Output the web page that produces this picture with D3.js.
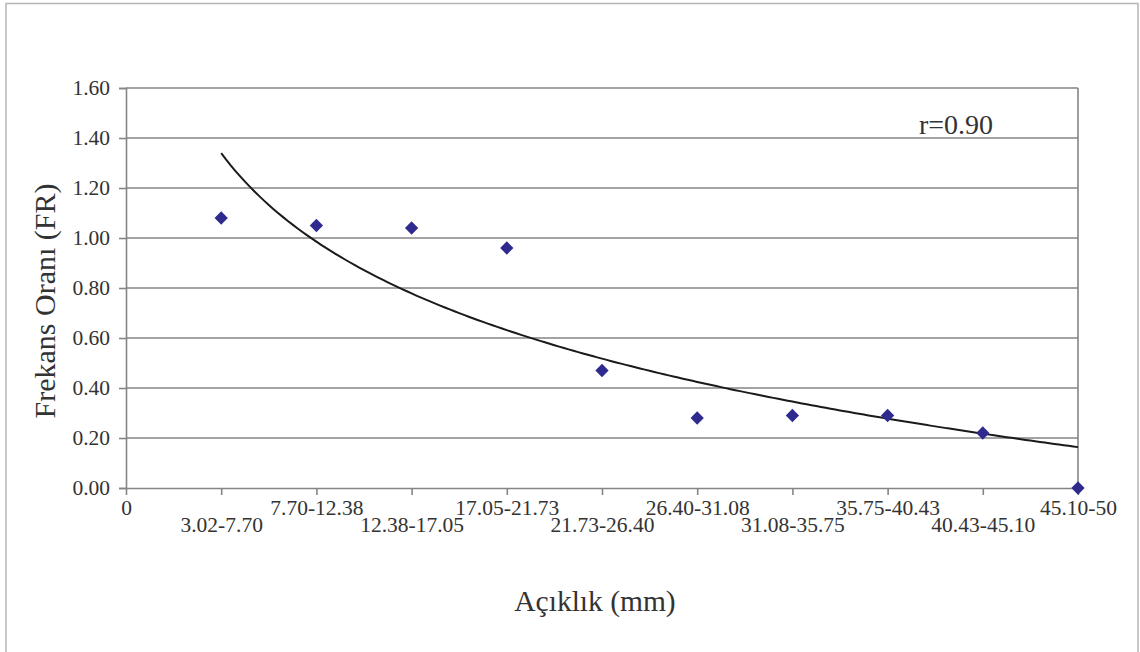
<!DOCTYPE html>
<html>
<head>
<meta charset="utf-8">
<script src="https://cdn.jsdelivr.net/npm/d3@7"></script>
<style>
  html, body { margin: 0; padding: 0; background: #fff; }
  svg { display: block; }
  text { font-family: "Liberation Serif", "Times New Roman", serif; fill: #333; }
</style>
</head>
<body>
<svg id="chart" width="1140" height="652"></svg>
<script>
// Aperture classes (mm) and their frequency ratios
const categories = ["0", "3.02-7.70", "7.70-12.38", "12.38-17.05", "17.05-21.73",
  "21.73-26.40", "26.40-31.08", "31.08-35.75", "35.75-40.43", "40.43-45.10", "45.10-50"];
const classIndex = [1, 2, 3, 4, 5, 6, 7, 8, 9, 10];
const frValues = [1.08, 1.05, 1.04, 0.96, 0.47, 0.28, 0.29, 0.29, 0.22, 0.00];
const yTicks = [0, 0.2, 0.4, 0.6, 0.8, 1.0, 1.2, 1.4, 1.6];
const rLabel = "r=0.90";

const svg = d3.select("#chart");
const plot = { left: 126, right: 1078, top: 88, bottom: 488 };

// outer frame (no bottom edge)
svg.append("path")
  .attr("d", `M6,652 L6,3.5 L1138,3.5 L1138,652`)
  .attr("fill", "none").attr("stroke", "#b5b5b5").attr("stroke-width", 1.5);

const x = d3.scaleLinear().domain([0, 10]).range([plot.left, plot.right]);
const y = d3.scaleLinear().domain([0, 1.6]).range([plot.bottom, plot.top]);

const grid = "#858585";

// horizontal gridlines
svg.append("g").selectAll("line").data(yTicks.filter(d => d > 0)).join("line")
  .attr("x1", plot.left).attr("x2", plot.right)
  .attr("y1", d => y(d)).attr("y2", d => y(d))
  .attr("stroke", grid).attr("stroke-width", 1.6);

// right edge of the plot area
svg.append("line")
  .attr("x1", plot.right).attr("x2", plot.right)
  .attr("y1", plot.top).attr("y2", plot.bottom)
  .attr("stroke", grid).attr("stroke-width", 1.6);

// y axis
const yAxis = svg.append("g").attr("transform", `translate(${plot.left},0)`)
  .call(d3.axisLeft(y).tickValues(yTicks).tickFormat(d3.format(".2f")).tickSize(7).tickPadding(9));
yAxis.select(".domain").attr("stroke", grid).attr("stroke-width", 1.6);
yAxis.selectAll(".tick line").attr("stroke", grid).attr("stroke-width", 1.6);
yAxis.selectAll(".tick text").attr("font-size", 21.5).attr("fill", "#333");

// x axis, labels staggered on two rows
const xAxis = svg.append("g").attr("transform", `translate(0,${plot.bottom})`)
  .call(d3.axisBottom(x).tickValues(d3.range(0, 11)).tickFormat(i => categories[i]).tickSize(7).tickPadding(4));
xAxis.select(".domain").attr("stroke", grid).attr("stroke-width", 1.6);
xAxis.selectAll(".tick line").attr("stroke", grid).attr("stroke-width", 1.6)
  .attr("opacity", d => (d === 0 || d === 10) ? 0 : 1);
xAxis.selectAll(".tick text")
  .attr("font-size", 21.5).attr("fill", "#333")
  .attr("dy", null)
  .attr("y", d => d % 2 === 0 ? 27 : 44);

// logarithmic least-squares trendline computed from the points
const lx = classIndex.map(Math.log);
const mx = d3.mean(lx), my = d3.mean(frValues);
const sxy = d3.sum(lx, (v, i) => (v - mx) * (frValues[i] - my));
const sxx = d3.sum(lx, v => (v - mx) ** 2);
const b = sxy / sxx, a = my - b * mx;
const curveX = d3.range(0, 181).map(k => 1 + 9 * k / 180);
svg.append("path")
  .datum(curveX)
  .attr("d", d3.line().x(d => x(d)).y(d => y(a + b * Math.log(d))))
  .attr("fill", "none").attr("stroke", "#1a1a1a").attr("stroke-width", 2);

// data markers (diamonds)
svg.append("g").selectAll("path").data(frValues).join("path")
  .attr("d", d3.symbol(d3.symbolSquare, 88))
  .attr("transform", (d, i) => `translate(${x(classIndex[i])},${y(d)}) rotate(45)`)
  .attr("fill", "#2f2a8e");

// correlation label
svg.append("text").attr("x", 956).attr("y", 134).attr("text-anchor", "middle")
  .attr("font-size", 28).text(rLabel);

// axis titles
svg.append("text").attr("x", 595).attr("y", 611).attr("text-anchor", "middle")
  .attr("font-size", 29.5).text("Açıklık (mm)");
svg.append("text").attr("transform", "translate(55,301) rotate(-90)")
  .attr("text-anchor", "middle").attr("font-size", 30).text("Frekans Oranı (FR)");
</script>
</body>
</html>
